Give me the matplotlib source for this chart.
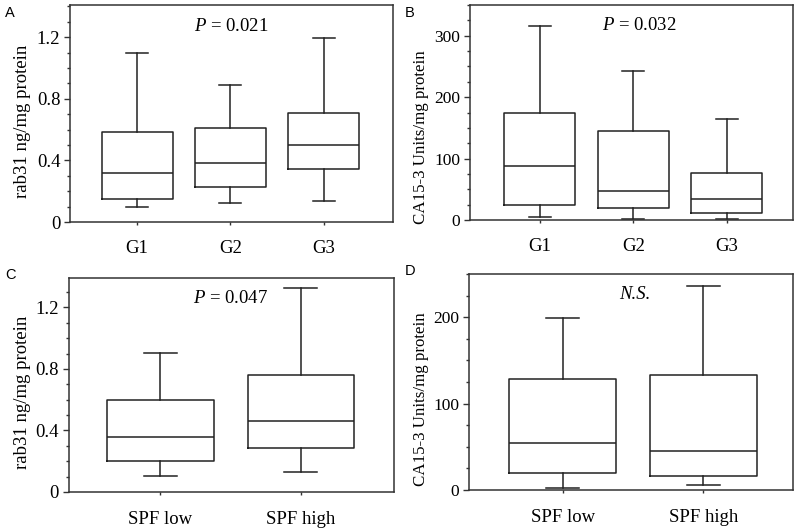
import matplotlib
matplotlib.use("Agg")
import matplotlib.pyplot as plt
from matplotlib.ticker import MultipleLocator, FuncFormatter

plt.rcParams["font.family"] = ["Liberation Serif", "DejaVu Serif"]
plt.rcParams["mathtext.fontset"] = "custom"
plt.rcParams["mathtext.rm"] = "Liberation Serif"
plt.rcParams["mathtext.it"] = "Liberation Serif:italic"

# whisker low, Q1, median, Q3, whisker high for each group
groups = ["G1", "G2", "G3"]
rab31_groups = [
    [0.10, 0.15, 0.32, 0.584, 1.10],
    [0.123, 0.225, 0.385, 0.612, 0.893],
    [0.138, 0.342, 0.502, 0.705, 1.194],
]
ca153_groups = [
    [4.3, 24.4, 87.3, 174.5, 316],
    [2.2, 19, 46.6, 145, 243],
    [2.2, 12, 34, 76, 164],
]

spf = ["SPF low", "SPF high"]
rab31_spf = [
    [0.106, 0.20, 0.358, 0.598, 0.902],
    [0.132, 0.287, 0.46, 0.76, 1.327],
]
ca153_spf = [
    [2.7, 19.7, 54.4, 128.6, 199],
    [5.4, 16.2, 45.6, 132.8, 236],
]

rab31_label = "rab31 ng/mg protein"
ca153_label = "CA15-3 Units/mg protein"


def draw_panel(fig, rect, labels, values, ylabel, ylabel_xy, ysize, ytick_size,
               ylim, major, minor, xlim, xpad, note, note_xy, letter, letter_xy,
               note_style="normal"):
    ax = fig.add_axes(rect)
    stats = [
        {"whislo": v[0], "q1": v[1], "med": v[2], "q3": v[3], "whishi": v[4],
         "fliers": [], "label": lab}
        for v, lab in zip(values, labels)
    ]
    line = {"color": "#222222", "linewidth": 1.1}
    ax.bxp(stats, widths=0.76, capwidths=0.235, showfliers=False,
           boxprops=line, whiskerprops=line, capprops=line, medianprops=line)
    ax.set_xlim(*xlim)
    ax.set_ylim(*ylim)
    ax.yaxis.set_major_locator(MultipleLocator(major))
    ax.yaxis.set_minor_locator(MultipleLocator(minor))
    ax.yaxis.set_major_formatter(FuncFormatter(lambda v, p: "0" if v == 0 else f"{v:g}"))
    for s in ax.spines.values():
        s.set_color("#333333")
        s.set_linewidth(1.1)
    ax.tick_params(axis="y", which="major", direction="out", length=4, width=1,
                   color="#333333", pad=3, labelsize=ytick_size)
    ax.tick_params(axis="y", which="minor", direction="out", length=2.2, width=1,
                   color="#333333")
    ax.tick_params(axis="x", which="major", direction="out", length=2, width=1,
                   color="#333333", pad=xpad, labelsize=13.5)
    ax.set_ylabel(ylabel, fontsize=ysize)
    ax.yaxis.set_label_coords(*ylabel_xy)
    ax.yaxis.label.set_va("center")
    ax.text(note_xy[0], note_xy[1], note, transform=ax.transAxes,
            ha="center", va="center", fontsize=13.5, fontstyle=note_style)
    fig.text(letter_xy[0] / 800, 1 - letter_xy[1] / 532, letter,
             family="Liberation Sans", fontsize=10.5, ha="center", va="center")
    return ax


fig = plt.figure(figsize=(8, 5.32), dpi=100)

draw_panel(fig, [0.0875, 0.5827, 0.404, 0.408], groups, rab31_groups,
           rab31_label, (-0.1455, 0.465), 13.5, 13.5,
           (0, 1.41), 0.4, 0.1, (0.282, 3.743), 11,
           "$P$ = 0.021", (0.498, 0.9), "A", (10, 13))
draw_panel(fig, [0.5875, 0.5865, 0.404, 0.404], groups, ca153_groups,
           ca153_label, (-0.152, 0.386), 12.2, 12.5,
           (0, 350), 100, 25, (0.255, 3.71), 11,
           "$P$ = 0.032", (0.523, 0.907), "B", (410, 13))
draw_panel(fig, [0.086, 0.0752, 0.406, 0.402], spf, rab31_spf,
           rab31_label, (-0.142, 0.467), 13.5, 13.5,
           (0, 1.39), 0.4, 0.1, (0.348, 2.659), 12,
           "$P$ = 0.047", (0.498, 0.907), "C", (10, 275))
draw_panel(fig, [0.586, 0.079, 0.405, 0.406], spf, ca153_spf,
           ca153_label, (-0.148, 0.42), 12.2, 12.5,
           (0, 250), 100, 25, (0.332, 2.635), 12,
           "N.S.", (0.512, 0.907), "D", (410, 271), note_style="italic")

fig.savefig("out.png", dpi=100)
